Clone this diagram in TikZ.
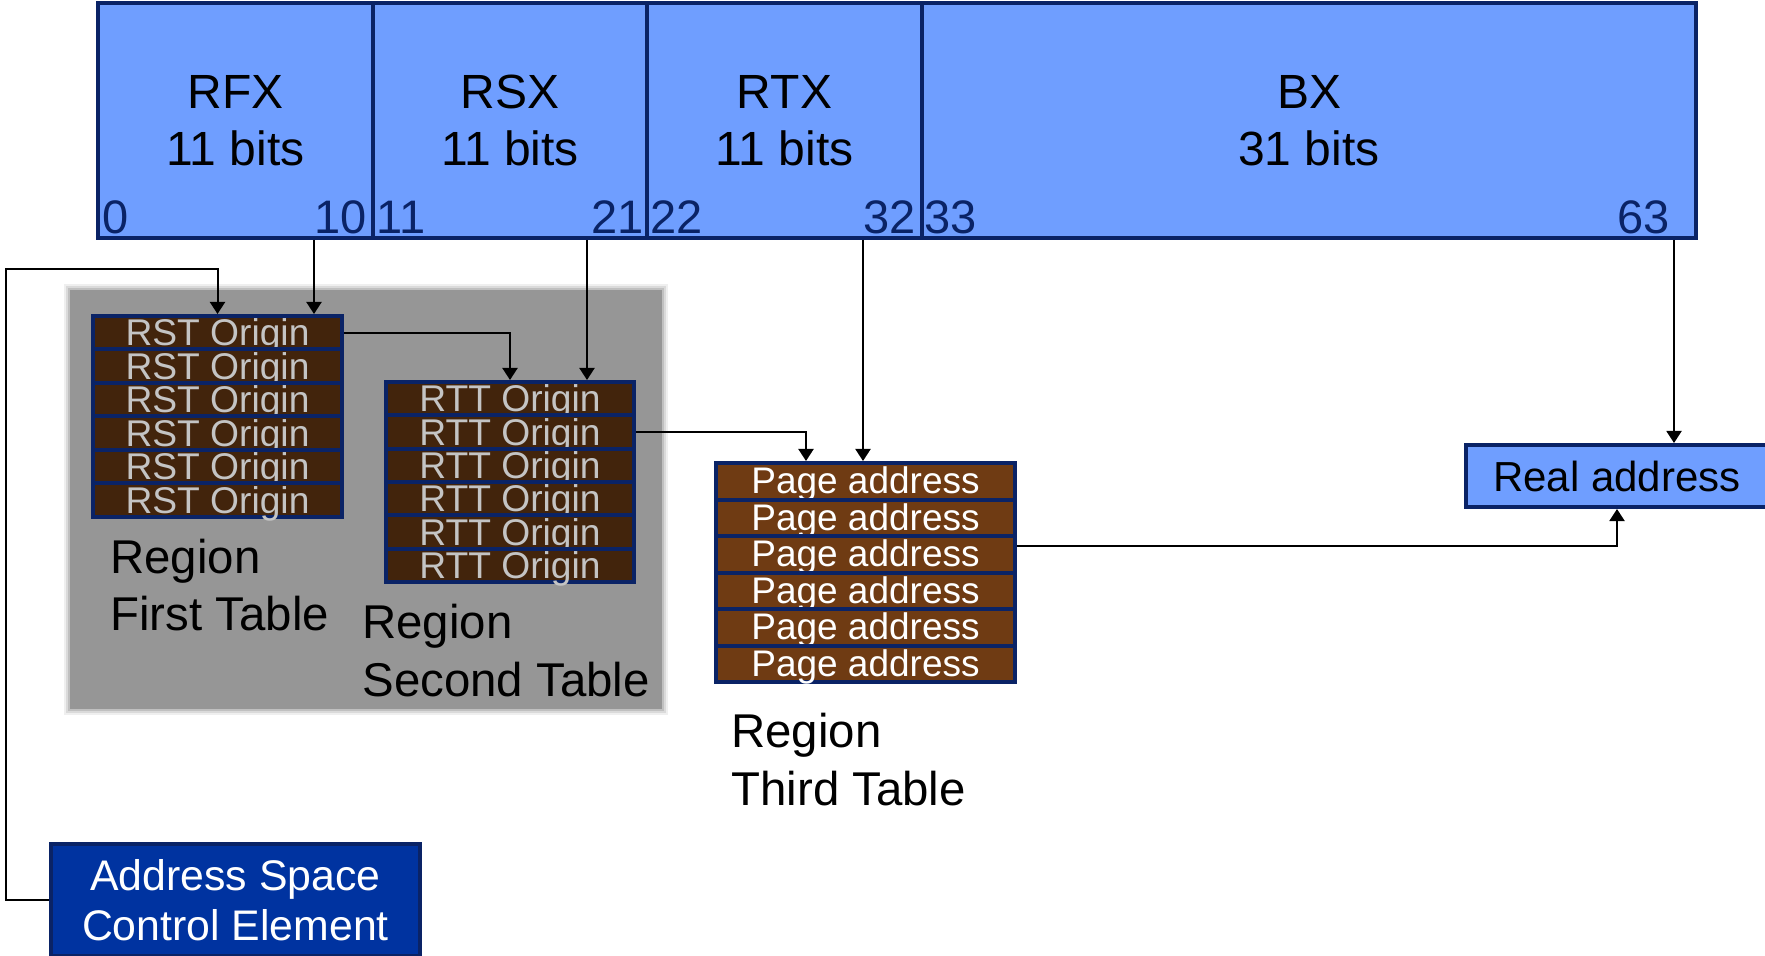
\documentclass[tikz,border=0pt]{standalone}
\usepackage{fontspec}
\setmainfont{Liberation Sans}
\usetikzlibrary{arrows.meta,positioning}

\definecolor{fieldblue}{HTML}{6F9EFF}
\definecolor{tabnavy}{HTML}{0A2366}
\definecolor{ascefill}{HTML}{0033A0}
\definecolor{darkbrown}{HTML}{42240C}
\definecolor{pagebrown}{HTML}{6F3B13}
\definecolor{origintext}{HTML}{C4C4C4}
\definecolor{boxgray}{HTML}{969696}

\begin{document}
\begin{tikzpicture}[x=0.5pt,y=-0.5pt]
    \tikzset{fieldbox/.style={draw=tabnavy, line width=2pt, fill=fieldblue, minimum height=117.5pt, align=center, font=\fontsize{24}{28.7}\selectfont},
             bitno/.style={inner sep=0pt, text=tabnavy, font=\fontsize{23.5}{28}\selectfont},
             originrow/.style={draw=tabnavy, line width=2pt, fill=darkbrown, text=origintext, inner sep=0pt, text depth=0pt, text height=13.1pt, font=\fontsize{18.6}{20}\selectfont},
             pagerow/.style={draw=tabnavy, line width=2pt, fill=pagebrown, text=white, inner sep=0pt, text depth=0pt, text height=12.6pt, minimum width=149.5pt, minimum height=18.25pt, font=\fontsize{18.5}{20}\selectfont},
             region/.style={anchor=north west, align=left, inner sep=0pt, font=\fontsize{23.7}{28.7}\selectfont},
             link/.style={line width=1pt, -{Triangle[length=6pt,width=7.5pt]}}}
    \useasboundingbox (0,0) rectangle (1765,956);

    % register
    \node[fieldbox, minimum width=137.5pt] (rfx) at (235.5,120.5) {RFX\\11 bits};
    \node[fieldbox, minimum width=137pt] (rsx) at (510,120.5) {RSX\\11 bits};
    \node[fieldbox, minimum width=137.5pt] (rtx) at (784.5,120.5) {RTX\\11 bits};
    \node[fieldbox, minimum width=387pt] (bx) at (1309,120.5) {BX\\31 bits};
    \node[bitno, anchor=base west] (b0) at ([shift={(3pt,3pt)}]rfx.south west) {0};
    \node[bitno, anchor=base east] (b10) at ([shift={(-4pt,3pt)}]rfx.south east) {10};
    \node[bitno, anchor=base west] (b11) at ([shift={(2.5pt,3pt)}]rsx.south west) {11};
    \node[bitno, anchor=base east] (b21) at ([shift={(-2.5pt,3pt)}]rsx.south east) {21};
    \node[bitno, anchor=base west] (b22) at ([shift={(2.5pt,3pt)}]rtx.south west) {22};
    \node[bitno, anchor=base east] (b32) at ([shift={(-4pt,3pt)}]rtx.south east) {32};
    \node[bitno, anchor=base west] (b33) at ([shift={(2pt,3pt)}]bx.south west) {33};
    \node[bitno, anchor=base east] (b63) at ([shift={(-14pt,3pt)}]bx.south east) {63};

    % grey area behind the first two tables, soft edge
    \fill[boxgray!15] (64,284) rectangle (668,715);
    \fill[boxgray!35] (66,286) rectangle (666,713);
    \fill[boxgray!60] (68,288) rectangle (664,711);
    \fill[boxgray] (70,290) rectangle (662,709);

    % tables
    \foreach \i in {1,...,6}
        \node[originrow, minimum width=124.5pt, minimum height=16.75pt] (rst\i) at (217.5,{316+33.5*(\i-0.5)}) {RST Origin};
    \foreach \i in {1,...,6}
        \node[originrow, minimum width=124pt, minimum height=16.67pt] (rtt\i) at (510,{382+33.33*(\i-0.5)}) {RTT Origin};
    \foreach \i in {1,...,6}
        \node[pagerow] (page\i) at (865.5,{463+36.5*(\i-0.5)}) {Page address};

    \node[region] (rftlabel) at (110,538.7) {Region\\First Table};
    \node[region] (rstlabel) at (362,604) {Region\\Second Table};
    \node[region] (rttlabel) at (731,713) {Region\\Third Table};

    \node[draw=tabnavy, line width=2pt, fill=fieldblue, minimum width=151pt, minimum height=31pt, font=\fontsize{21}{24}\selectfont] (real) at (1617,476) {Real address};
    \node[draw=tabnavy, line width=2pt, fill=ascefill, text=white, align=center, minimum width=184.5pt, minimum height=56pt, font=\fontsize{21.4}{24.8}\selectfont] (asce) at (235.5,900) {Address Space\\Control Element};

    % connectors
    \coordinate (rfxout) at ([xshift=-30.5pt]rfx.south east);
    \coordinate (rsxout) at ([xshift=-31pt]rsx.south east);
    \coordinate (rtxout) at ([xshift=-30.5pt]rtx.south east);
    \coordinate (bxout) at ([xshift=-12pt]bx.south east);
    \coordinate (bend) at (6,269);
    \draw[link] (rfxout) -- (rfxout |- rst1.north);
    \draw[link] (rsxout) -- (rsxout |- rtt1.north);
    \draw[link] (rtxout) -- (rtxout |- page1.north);
    \draw[link] (bxout) -- (bxout |- real.north);
    \draw[link] (asce.west) -| (bend) -| (rst1.north);
    \draw[link] (rst1.east) -| (rtt1.north);
    \draw[link] (rtt2.east) -| ([xshift=-29.75pt]page1.north);
    \draw[link] ([yshift=4pt]page3.east) -| (real.south);
\end{tikzpicture}
\end{document}
